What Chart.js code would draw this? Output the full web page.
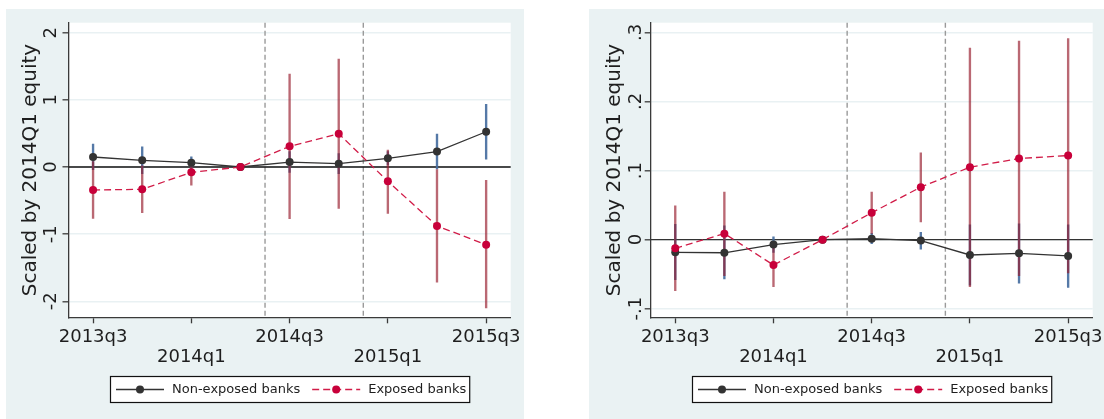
<!DOCTYPE html>
<html>
<head>
<meta charset="utf-8">
<script src="https://cdn.jsdelivr.net/npm/chart.js@4.4.1/dist/chart.umd.min.js"></script>
<style>
  html, body { margin: 0; padding: 0; background: #ffffff; }
  body { width: 1104px; height: 419px; position: relative; overflow: hidden; }
  .panel { position: absolute; top: 9px; height: 410px; background: #eaf2f3; }
  canvas { display: block; }
</style>
</head>
<body>
<div class="panel" style="left:6px;width:518px"><canvas id="leftChart" width="518" height="410"></canvas></div>
<div class="panel" style="left:589px;width:515px"><canvas id="rightChart" width="515" height="410"></canvas></div>
<script>
// Quarters on the x axis (index 0..8) and the ones that carry a label
const quarters = ['2013q3', '2013q4', '2014q1', '2014q2', '2014q3', '2014q4', '2015q1', '2015q2', '2015q3'];
const labelledQuarters = [0, 2, 4, 6, 8];
// Event markers between 2014q2/2014q3 and 2014q4/2015q1
const eventLines = [3.5, 5.5];
const seriesNames = ['Non-exposed banks', 'Exposed banks'];
const axisTitle = 'Scaled by 2014Q1 equity';

// Left panel: point estimates and 95% bounds
const leftNonExposed   = [0.149, 0.100, 0.064, 0, 0.074, 0.050, 0.130, 0.230, 0.525];
const leftNonExposedLo = [-0.040, -0.100, -0.025, null, -0.080, -0.100, 0.030, -0.030, 0.115];
const leftNonExposedHi = [0.340, 0.300, 0.153, null, 0.230, 0.200, 0.230, 0.490, 0.935];
const leftExposed      = [-0.342, -0.332, -0.079, 0, 0.308, 0.496, -0.213, -0.878, -1.156];
const leftExposedLo    = [-0.764, -0.680, -0.270, null, -0.770, -0.615, -0.690, -1.716, -2.100];
const leftExposedHi    = [0.080, 0.016, 0.110, null, 1.384, 1.607, 0.253, -0.040, -0.198];
const leftYTicks       = [-2, -1, 0, 1, 2];
const leftYTickLabels  = ['-2', '-1', '0', '1', '2'];

// Right panel
const rightNonExposed   = [-0.0183, -0.0190, -0.0072, 0, 0.0014, -0.0014, -0.0222, -0.0198, -0.0236];
const rightNonExposedLo = [-0.058, -0.057, -0.0185, null, -0.006, -0.0139, -0.066, -0.063, -0.069];
const rightNonExposedHi = [0.022, 0.020, 0.004, null, 0.009, 0.0107, 0.0213, 0.0228, 0.0213];
const rightExposed      = [-0.0125, 0.0087, -0.0367, 0, 0.039, 0.076, 0.1049, 0.1174, 0.1217];
const rightExposedLo    = [-0.074, -0.052, -0.068, null, 0.009, 0.0257, -0.068, -0.052, -0.048];
const rightExposedHi    = [0.049, 0.069, -0.005, null, 0.069, 0.1257, 0.2774, 0.2875, 0.2909];
const rightYTicks       = [-0.1, 0, 0.1, 0.2, 0.3];
const rightYTickLabels  = ['-.1', '0', '.1', '.2', '.3'];

const FONT = "'DejaVu Sans', 'Liberation Sans', sans-serif";
const AXIS_COLOR = '#3a3a3a';
const TEXT_COLOR = '#1e1e1e';
const DARK = '#333333';
const RED = '#c8003a';
const RED_LINE = '#d11c48';
const CI_BLUE = 'rgba(70,110,160,0.92)';
const CI_RED = 'rgba(150,26,42,0.66)';

function points(values) {
  return values.map((v, i) => ({ x: i, y: v }));
}
function intervals(lo, hi) {
  return lo.map((l, i) => (l === null ? null : { x: i, y: [l, hi[i]] })).filter(d => d !== null);
}

// Decorations drawn on the chart: white plot region, reference lines,
// axis labels, axis title and the boxed legend.
const panelDecor = {
  id: 'panelDecor',
  beforeDraw(chart) {
    const { ctx, chartArea: a } = chart;
    ctx.save();
    ctx.fillStyle = '#ffffff';
    ctx.fillRect(a.left, a.top, a.right - a.left, a.bottom - a.top);
    ctx.restore();
  },
  beforeDatasetsDraw(chart, args, opts) {
    const { ctx, chartArea: a, scales: { x, y } } = chart;
    ctx.save();
    // event lines
    ctx.strokeStyle = '#9a9a9a';
    ctx.lineWidth = 1.4;
    ctx.setLineDash([5, 3]);
    eventLines.forEach(v => {
      const px = x.getPixelForValue(v);
      ctx.beginPath();
      ctx.moveTo(px, a.top);
      ctx.lineTo(px, a.bottom);
      ctx.stroke();
    });
    // zero line
    ctx.setLineDash([]);
    ctx.strokeStyle = opts.zeroColor;
    ctx.lineWidth = 1.4;
    const py = y.getPixelForValue(0);
    ctx.beginPath();
    ctx.moveTo(a.left, py);
    ctx.lineTo(a.right, py);
    ctx.stroke();
    ctx.restore();
  },
  afterDraw(chart, args, opts) {
    const { ctx, chartArea: a, scales: { x, y } } = chart;
    ctx.save();
    ctx.fillStyle = TEXT_COLOR;

    // x labels, alternating between two rows
    ctx.font = '18px ' + FONT;
    ctx.textAlign = 'center';
    ctx.textBaseline = 'alphabetic';
    labelledQuarters.forEach((q, k) => {
      const row = k % 2;
      ctx.fillText(quarters[q], x.getPixelForValue(q), a.bottom + 24.5 + row * 20);
    });

    // rotated y tick labels
    opts.yTicks.forEach((v, i) => {
      ctx.save();
      ctx.translate(a.left - opts.tickLabelOffset, y.getPixelForValue(v));
      ctx.rotate(-Math.PI / 2);
      ctx.fillText(opts.yTickLabels[i], 0, 0);
      ctx.restore();
    });

    // axis title
    ctx.font = '20px ' + FONT;
    ctx.save();
    ctx.translate(a.left - opts.titleOffset, (a.top + a.bottom) / 2);
    ctx.rotate(-Math.PI / 2);
    ctx.fillText(axisTitle, 0, 0);
    ctx.restore();

    // legend
    const lineDs = chart.data.datasets.filter(d => d.type === 'line');
    ctx.font = '13px ' + FONT;
    const widths = lineDs.map(d => ctx.measureText(d.label).width);
    const padL = 6, symW = 48, gap = 8, between = 12, padR = 3;
    const boxW = padL + lineDs.length * (symW + gap) + widths.reduce((s, w) => s + w, 0) + between * (lineDs.length - 1) + padR;
    const boxH = 26;
    const boxTop = opts.legendTop;
    const boxLeft = Math.round((a.left + a.right) / 2 - boxW / 2);
    ctx.fillStyle = '#ffffff';
    ctx.fillRect(boxLeft, boxTop, boxW, boxH);
    ctx.strokeStyle = '#111111';
    ctx.lineWidth = 1.2;
    ctx.strokeRect(boxLeft + 0.5, boxTop + 0.5, boxW, boxH);
    const cy = boxTop + boxH / 2 + 0.5;
    let cx = boxLeft + padL;
    lineDs.forEach((d, i) => {
      ctx.strokeStyle = d.borderColor;
      ctx.lineWidth = d.borderWidth;
      ctx.setLineDash(d.borderDash || []);
      ctx.beginPath();
      ctx.moveTo(cx, cy);
      ctx.lineTo(cx + symW, cy);
      ctx.stroke();
      ctx.setLineDash([]);
      ctx.fillStyle = d.pointBackgroundColor;
      ctx.beginPath();
      ctx.arc(cx + symW / 2, cy, d.pointRadius, 0, Math.PI * 2);
      ctx.fill();
      cx += symW + gap;
      ctx.fillStyle = TEXT_COLOR;
      ctx.textAlign = 'left';
      ctx.textBaseline = 'middle';
      ctx.fillText(d.label, cx, cy);
      cx += widths[i] + between;
    });
    ctx.restore();
  }
};

function makePanel(canvasId, cfg) {
  const datasets = [
    {
      type: 'bar', label: '', data: intervals(cfg.nonLo, cfg.nonHi),
      backgroundColor: CI_BLUE, borderWidth: 0, barThickness: 1.7, grouped: false, order: 3
    },
    {
      type: 'bar', label: '', data: intervals(cfg.expLo, cfg.expHi),
      backgroundColor: CI_RED, borderWidth: 0, barThickness: 1.7, grouped: false, order: 2
    },
    {
      type: 'line', label: seriesNames[0], data: points(cfg.non),
      borderColor: DARK, borderWidth: 1.3, pointRadius: 4, pointBorderWidth: 0,
      pointBackgroundColor: DARK, pointBorderColor: DARK, tension: 0, order: 1
    },
    {
      type: 'line', label: seriesNames[1], data: points(cfg.exp),
      borderColor: RED_LINE, borderWidth: 1.3, borderDash: [7, 4], pointRadius: 4, pointBorderWidth: 0,
      pointBackgroundColor: RED, pointBorderColor: RED, tension: 0, order: 0
    }
  ];

  return new Chart(document.getElementById(canvasId), {
    type: 'bar',
    data: { datasets },
    options: {
      responsive: false,
      animation: false,
      events: [],
      layout: { padding: cfg.padding },
      plugins: {
        legend: { display: false },
        tooltip: { enabled: false },
        panelDecor: {
          yTicks: cfg.yTicks, yTickLabels: cfg.yTickLabels,
          tickLabelOffset: cfg.tickLabelOffset, titleOffset: cfg.titleOffset,
          legendTop: 367, zeroColor: cfg.zeroColor
        }
      },
      scales: {
        x: {
          type: 'linear', min: -0.5, max: 8.5, offset: false,
          afterBuildTicks: s => { s.ticks = labelledQuarters.map(v => ({ value: v })); },
          afterFit: s => { s.height = 0; },
          grid: { drawOnChartArea: false, tickLength: 6, tickColor: AXIS_COLOR, tickWidth: 1.3, offset: false },
          border: { display: true, color: AXIS_COLOR, width: 1.3 },
          ticks: { display: false }
        },
        y: {
          type: 'linear', min: cfg.yMin, max: cfg.yMax,
          afterBuildTicks: s => { s.ticks = cfg.yTicks.map(v => ({ value: v })); },
          afterFit: s => { s.width = 0; },
          grid: { color: '#e9f1f3', lineWidth: 1.6, tickLength: 6, tickColor: AXIS_COLOR, tickWidth: 1.3 },
          border: { display: true, color: AXIS_COLOR, width: 1.3 },
          ticks: { display: false }
        }
      }
    },
    plugins: [panelDecor]
  });
}

makePanel('leftChart', {
  non: leftNonExposed, nonLo: leftNonExposedLo, nonHi: leftNonExposedHi,
  exp: leftExposed, expLo: leftExposedLo, expHi: leftExposedHi,
  yMin: -2.238, yMax: 2.149, yTicks: leftYTicks, yTickLabels: leftYTickLabels,
  padding: { left: 62.5, top: 13.7, right: 13.3, bottom: 101.7 },
  tickLabelOffset: 12.5, titleOffset: 32.5, zeroColor: '#111111'
});

makePanel('rightChart', {
  non: rightNonExposed, nonLo: rightNonExposedLo, nonHi: rightNonExposedHi,
  exp: rightExposed, expLo: rightExposedLo, expHi: rightExposedHi,
  yMin: -0.1124, yMax: 0.314, yTicks: rightYTicks, yTickLabels: rightYTickLabels,
  padding: { left: 61.7, top: 13.7, right: 11.3, bottom: 101.7 },
  tickLabelOffset: 10, titleOffset: 30.5, zeroColor: '#333333'
});
</script>
</body>
</html>
